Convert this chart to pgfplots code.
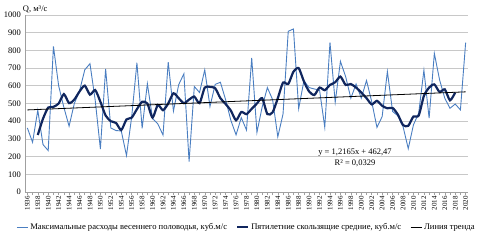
\documentclass[border=0pt]{standalone}
\usepackage{fontspec}
\setmainfont{Liberation Serif}
\usepackage{pgfplots}
\pgfplotsset{compat=1.18}
\definecolor{rawblue}{RGB}{74,126,193}
\definecolor{mavy}{RGB}{16,38,94}
\definecolor{gridgray}{RGB}{200,200,200}
\begin{document}
\begin{tikzpicture}[font=\fontsize{8.5bp}{10bp}\selectfont]
\useasboundingbox (-25bp,-54bp) rectangle (466bp,192bp);
\begin{axis}[
  scale only axis, width=443bp, height=177bp,
  xmin=1935.55, xmax=2020.45, ymin=0, ymax=1000,
  ytick={0,100,...,1000},
  xtick={1936,1938,...,2020},
  minor xtick={1937,1939,...,2019},
  axis x line*=bottom, axis y line*=left,
  axis line style={draw=gridgray!80!black, -, line width=0.6bp},
  ymajorgrids, grid style={gridgray, line width=0.7bp},
  tick align=outside, major tick length=3bp, minor tick length=3bp,
  tick style={gridgray!80!black, line width=0.5bp},
  ytick style={draw=none},
  /pgf/number format/assume math mode=true,
  /pgf/number format/1000 sep={},
  yticklabel style={font=\fontsize{8.5bp}{10bp}\selectfont, inner sep=1bp},
  xticklabel style={rotate=90, anchor=east, font=\fontsize{7bp}{8bp}\selectfont, inner sep=1bp},
  clip=false,
  legend style={at={(0.5,-0.198)}, anchor=center, draw=none, fill=none,
    legend columns=3, font=\fontsize{8.6bp}{10bp}\selectfont, inner sep=0pt,
    /tikz/every even column/.append style={column sep=7bp}},
  legend image code/.code={\draw[#1] (0bp,0bp) -- (11bp,0bp);},
  legend cell align=left,
]
\addplot[rawblue, line width=0.9bp] coordinates {
(1936,362) (1937,281) (1938,462) (1939,268) (1940,234) (1941,823) (1942,600) (1943,478) (1944,372) (1945,500)
(1946,570) (1947,690) (1948,725) (1949,520) (1950,243) (1951,696) (1952,362) (1953,347) (1954,345) (1955,206)
(1956,425) (1957,730) (1958,360) (1959,612) (1960,415) (1961,385) (1962,322) (1963,734) (1964,457) (1965,606)
(1966,668) (1967,172) (1968,596) (1969,562) (1970,690) (1971,483) (1972,608) (1973,620) (1974,521) (1975,405)
(1976,323) (1977,420) (1978,350) (1979,757) (1980,337) (1981,480) (1982,590) (1983,522) (1984,312) (1985,440)
(1986,908) (1987,921) (1988,471) (1989,628) (1990,590) (1991,582) (1992,576) (1993,366) (1994,845) (1995,507)
(1996,738) (1997,652) (1998,530) (1999,610) (2000,530) (2001,630) (2002,510) (2003,365) (2004,426) (2005,681)
(2006,455) (2007,431) (2008,370) (2009,245) (2010,380) (2011,445) (2012,688) (2013,417) (2014,783) (2015,634)
(2016,530) (2017,473) (2018,497) (2019,464) (2020,844)
};
\addlegendentry{Максимальные расходы весеннего половодья, куб.м/с}
\addplot[mavy, line width=2.2bp, smooth, tension=0.4] coordinates {
(1938,322) (1939,414) (1940,477) (1941,481) (1942,500) (1943,553) (1944,502) (1945,522) (1946,568) (1947,601)
(1948,550) (1949,576) (1950,510) (1951,432) (1952,400) (1953,390) (1954,350) (1955,410) (1956,420) (1957,468)
(1958,510) (1959,500) (1960,420) (1961,492) (1962,462) (1963,500) (1964,558) (1965,530) (1966,502) (1967,522)
(1968,539) (1969,502) (1970,590) (1971,594) (1972,586) (1973,530) (1974,497) (1975,460) (1976,405) (1977,452)
(1978,440) (1979,470) (1980,500) (1981,530) (1982,440) (1983,450) (1984,530) (1985,618) (1986,610) (1987,680)
(1988,700) (1989,625) (1990,568) (1991,548) (1992,590) (1993,575) (1994,605) (1995,620) (1996,652) (1997,605)
(1998,610) (1999,590) (2000,562) (2001,530) (2002,495) (2003,515) (2004,487) (2005,473) (2006,475) (2007,438)
(2008,378) (2009,374) (2010,427) (2011,432) (2012,543) (2013,590) (2014,608) (2015,565) (2016,580) (2017,518)
(2018,562)
};
\addlegendentry{Пятилетние скользящие средние, куб.м/с}
\addplot[black, line width=0.8bp] coordinates {(1936,463.7) (2020,565.9)};
\addlegendentry{Линия тренда}
\node[anchor=west, inner sep=0pt] at (rel axis cs:-0.005,1.031) {Q, м³/с};
\node[inner sep=0pt] at (axis cs:1998.8,220) {y = 1,2165x + 462,47};
\node[inner sep=0pt] at (axis cs:1998.8,164) {R² = 0,0329};
\end{axis}
\end{tikzpicture}
\end{document}
